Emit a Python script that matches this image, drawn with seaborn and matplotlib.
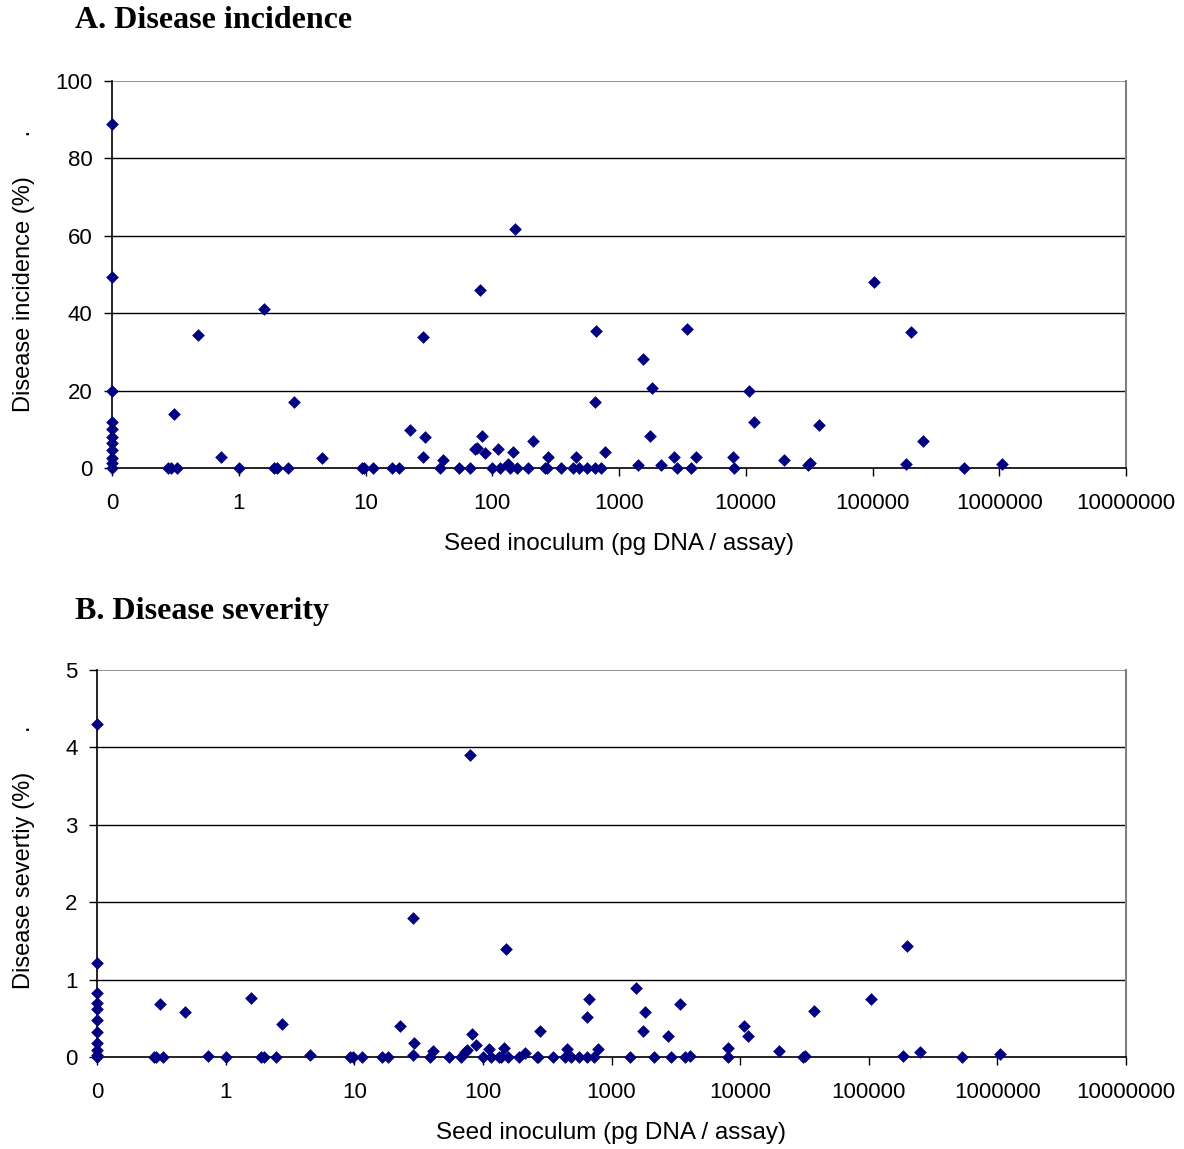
import numpy as np
import pandas as pd
import matplotlib
matplotlib.use("Agg")
import matplotlib.pyplot as plt
import seaborn as sns

# ---- data ----
# samples with no detectable inoculum (plotted at the "0" position of the log axis)
zero_incidence = [0, 1.2, 2.5, 4.7, 6.4, 8, 10, 12, 20, 49.4, 88.9]
zero_severity = [0, 0.03, 0.09, 0.18, 0.32, 0.48, 0.62, 0.70, 0.83, 1.21, 4.30]

inoculum = [0.275, 0.29, 0.31, 0.327, 0.48, 0.73, 1.0, 1.57, 1.9, 2.0, 2.45, 2.73,
            4.56, 9.3, 9.8, 11.5, 16.3, 18.3, 22.6, 28.4, 28.6, 29.4, 39, 40.8,
            55, 67, 73, 75.4, 80, 83, 88, 100, 112, 115, 134, 138, 146, 150, 156,
            190, 211, 262, 268, 276, 350, 433, 454, 485, 555, 645, 645, 664, 725,
            780, 1400, 1555, 1750, 1830, 2150, 2730, 2890, 3415, 3700, 4075, 8000,
            8050, 10700, 11600, 20100, 31000, 32000, 37800, 103500, 184000,
            200000, 250000, 530000, 1055000]
incidence = [0, 0, 14, 0, 34.3, 2.9, 0, 41.2, 0, 0, 0, 17.1,
             2.5, 0, 0, 0, 0, 0, 9.8, 2.9, 33.9, 8.1, 0, 2.1,
             0, 0, 5.0, 5.1, 46.1, 8.3, 4.0, 0, 5.0, 0, 1.0, 0, 4.2, 61.7, 0,
             0, 7.1, 0, 0, 2.9, 0, 0, 2.9, 0, 0, 17.1, 0, 35.5, 0,
             4.1, 0.8, 28.2, 8.3, 20.8, 0.8, 2.9, 0, 35.9, 0, 2.9, 2.9,
             0, 20.0, 12.0, 2.1, 0.8, 1.2, 11.0, 48.1, 0.95,
             35.1, 7.0, 0, 0.95]
severity = [0, 0, 0.68, 0, 0.58, 0.01, 0, 0.76, 0, 0, 0, 0.42,
            0.03, 0, 0, 0, 0, 0, 0.40, 0.03, 1.80, 0.18, 0, 0.08,
            0, 0, 0.07, 0.09, 3.90, 0.30, 0.155, 0, 0.10, 0, 0, 0, 0.12, 1.40, 0,
            0, 0.055, 0, 0, 0.34, 0, 0, 0.10, 0, 0, 0.52, 0, 0.745, 0,
            0.10, 0, 0.89, 0.34, 0.585, 0, 0.275, 0, 0.685, 0, 0.01, 0.12,
            0, 0.40, 0.275, 0.08, 0.0, 0.01, 0.60, 0.745, 0.01,
            1.44, 0.07, 0, 0.04]

x_ticks = [0.1, 1, 10, 100, 1000, 10000, 100000, 1000000, 10000000]
x_tick_labels = ["0", "1", "10", "100", "1000", "10000", "100000", "1000000", "10000000"]
yA_ticks = [0, 20, 40, 60, 80, 100]
yB_ticks = [0, 1, 2, 3, 4, 5]

ZERO_POS = 0.1  # the axis position labelled "0"

df = pd.DataFrame({
    "inoculum": [0.0] * len(zero_incidence) + inoculum,
    "incidence": zero_incidence + incidence,
    "severity": zero_severity + severity,
})
df["xpos"] = df["inoculum"].where(df["inoculum"] > 0, ZERO_POS)

sns.set_theme(style="white")
plt.rcParams["font.family"] = ["Liberation Sans", "DejaVu Sans"]

fig = plt.figure(figsize=(11.84, 11.49), dpi=100)
axA = fig.add_axes([112 / 1184, 1 - 468 / 1149, (1126 - 112) / 1184, 387 / 1149])
axB = fig.add_axes([97 / 1184, 1 - 1057 / 1149, (1126 - 97) / 1184, 387 / 1149])

navy = "#000080"

def style(ax, ycol, yticks, ylabel):
    sns.scatterplot(data=df, x="xpos", y=ycol, ax=ax, marker="D", s=42,
                    color=navy, edgecolor=navy, linewidth=0, zorder=5, clip_on=False)
    ax.set_xscale("log")
    ax.set_xlim(0.1, 1e7)
    ax.set_ylim(yticks[0], yticks[-1])
    ax.set_xticks(x_ticks)
    ax.set_xticklabels(x_tick_labels)
    ax.xaxis.set_minor_locator(matplotlib.ticker.NullLocator())
    ax.set_yticks(yticks)
    ax.set_yticklabels([str(t) for t in yticks])
    for t in yticks[1:-1]:
        ax.axhline(t, color="black", lw=1.0, zorder=1)
    ax.axhline(yticks[-1], color="#808080", lw=1.2, zorder=1)
    ax.tick_params(axis="both", which="major", direction="out", length=6, width=1,
                   color="black", labelsize=16, labelcolor="black", pad=8,
                   bottom=True, left=True)
    ax.tick_params(axis="x", pad=12)
    for side in ["left", "bottom"]:
        ax.spines[side].set_color("black")
        ax.spines[side].set_linewidth(1.2)
    ax.spines["right"].set_color("#808080")
    ax.spines["right"].set_linewidth(1.5)
    ax.spines["top"].set_visible(False)
    ax.set_xlabel("Seed inoculum (pg DNA / assay)", fontsize=17.5, color="black", labelpad=14)
    ax.set_ylabel(ylabel, fontsize=17, color="black")
    ax.grid(False)

style(axA, "incidence", yA_ticks, "Disease incidence (%)      .")
style(axB, "severity", yB_ticks, "Disease severtiy (%)      .")

fig.text(75 / 1184, 1 - 21 / 1149, "A. Disease incidence", fontsize=23, fontweight="bold",
         family=["Liberation Serif", "DejaVu Serif"], va="center", ha="left", color="black")
fig.text(75 / 1184, 1 - 611 / 1149, "B. Disease severity", fontsize=23, fontweight="bold",
         family=["Liberation Serif", "DejaVu Serif"], va="center", ha="left", color="black")

# place y labels at the same figure x as the reference (right edge ~35 px)
for ax, ypos in ((axA, 0.51), (axB, 0.515)):
    bbox = ax.get_position()
    x_axes = (35 / 1184 - bbox.x0) / bbox.width
    ax.yaxis.set_label_coords(x_axes, ypos)

fig.savefig("out.png", dpi=100, facecolor="white")
